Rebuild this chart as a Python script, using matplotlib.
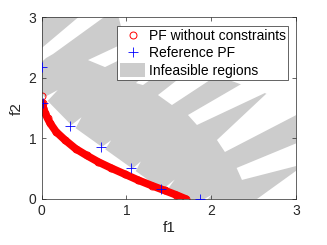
import matplotlib
matplotlib.use('Agg')
import matplotlib.pyplot as plt
from matplotlib.patches import Polygon

plt.rcParams['font.family'] = ['Liberation Sans', 'DejaVu Sans']

# PF without constraints (red circles)
pf_f1 = [0.0, 0.01, 0.02, 0.04, 0.07, 0.1, 0.17, 0.27, 0.4, 0.53, 0.67, 0.82,
         0.98, 1.14, 1.3, 1.45, 1.58, 1.7]
pf_f2 = [1.70, 1.58, 1.50, 1.42, 1.33, 1.25, 1.11, 0.98, 0.83, 0.72, 0.61, 0.51,
         0.41, 0.31, 0.22, 0.14, 0.07, 0.0]

# reference PF (blue plus)
ref_f1 = [0.0, 0.02, 0.334, 0.696, 1.053, 1.407, 1.867]
ref_f2 = [2.18, 1.59, 1.21, 0.864, 0.517, 0.165, 0.0]

# outline of the infeasible area
infeas_f1 = [0.0, 0.03, 0.19, 0.07, 0.35, 0.47, 0.40, 0.71, 0.82, 0.75, 1.07, 1.17,
             1.11, 1.42, 1.57, 1.46, 1.57, 1.92, 2.01, 1.96, 3.05, 3.05, 2.634,
             2.22, 0.935, 0.90, 0.0]
infeas_f2 = [1.77, 1.68, 1.80, 1.62, 1.22, 1.35, 1.17, 0.86, 0.97, 0.82, 0.50, 0.62,
             0.46, 0.15, 0.32, 0.11, 0.0, 0.0, 0.07, 0.0, 0.0, 1.42, 1.75,
             1.96, 2.856, 3.05, 3.05]

# feasible stripes cut into the infeasible area
stripe1_f1 = [0.0, 0.472, 0.78, 0.133, 0.051, 0.0]
stripe1_f2 = [2.493, 3.05, 3.05, 2.394, 2.328, 2.262]
stripe2_f1 = [0.546, 0.747, 1.277, 1.277]
stripe2_f2 = [2.295, 2.179, 2.542, 2.773]
stripe3_f1 = [1.112, 1.195, 1.572, 1.454]
stripe3_f2 = [1.915, 1.882, 2.262, 2.345]
stripe4_f1 = [1.372, 1.537, 1.985, 1.749]
stripe4_f2 = [1.717, 1.552, 1.965, 2.130]
stripe5_f1 = [1.726, 1.832, 2.634, 2.599]
stripe5_f2 = [1.387, 1.222, 1.750, 2.097]
stripe6_f1 = [2.068, 2.162, 3.05, 3.05, 2.646]
stripe6_f2 = [0.974, 0.776, 1.42, 1.75, 1.733]
stripe7_f1 = [2.30, 2.363, 3.05, 3.05]
stripe7_f2 = [0.512, 0.314, 0.561, 0.946]
stripe8_f1 = [2.536, 3.05, 3.05]
stripe8_f2 = [0.0, 0.0, 0.51]

stripes = [(stripe1_f1, stripe1_f2), (stripe2_f1, stripe2_f2),
           (stripe3_f1, stripe3_f2), (stripe4_f1, stripe4_f2),
           (stripe5_f1, stripe5_f2), (stripe6_f1, stripe6_f2),
           (stripe7_f1, stripe7_f2), (stripe8_f1, stripe8_f2)]

fig = plt.figure(figsize=(3.27, 2.45), dpi=100)
ax = fig.add_axes([0.1275, 0.188, 0.7775, 0.741])

gray = Polygon(list(zip(infeas_f1, infeas_f2)), closed=True, fc='#cccccc',
               ec='none', zorder=1, label='Infeasible regions')
ax.add_patch(gray)
for sx, sy in stripes:
    ax.add_patch(Polygon(list(zip(sx, sy)), closed=True, fc='white', ec='none',
                         zorder=1.1))

ax.plot(pf_f1[1:], pf_f2[1:], color='r', lw=5.5, solid_capstyle='round', zorder=2)
ax.plot(pf_f1, pf_f2, 'o', mfc='none', mec='r', ms=5, mew=0.7, zorder=2.1,
        label='PF without constraints')
ax.plot(ref_f1, ref_f2, '+', color='b', ms=7.5, mew=0.6, zorder=3,
        label='Reference PF')

ax.set_xlim(0, 3)
ax.set_ylim(0, 3)
ax.set_xticks([0, 1, 2, 3])
ax.set_yticks([0, 1, 2, 3])
ax.tick_params(direction='in', length=3, width=0.5, top=True, right=True,
               labelsize=10, pad=4, color='0.15', labelcolor='0.15')
for sp in ax.spines.values():
    sp.set_linewidth(0.5)
    sp.set_color('0.15')

ax.set_xlabel('f1', fontsize=11, color='0.15', labelpad=2)
ax.set_ylabel('f2', fontsize=11, color='0.15', labelpad=3)

h, l = ax.get_legend_handles_labels()
order = [l.index('PF without constraints'), l.index('Reference PF'),
         l.index('Infeasible regions')]
leg = ax.legend([h[i] for i in order], [l[i] for i in order],
                loc='upper right', bbox_to_anchor=(0.970, 0.952),
                borderaxespad=0, fontsize=10, handlelength=1.8,
                handleheight=1.1, handletextpad=0.25, labelspacing=0.2,
                borderpad=0.2, fancybox=False, framealpha=1)
leg.get_frame().set_edgecolor('0.15')
leg.get_frame().set_linewidth(0.5)

fig.savefig('out.png', dpi=100)
